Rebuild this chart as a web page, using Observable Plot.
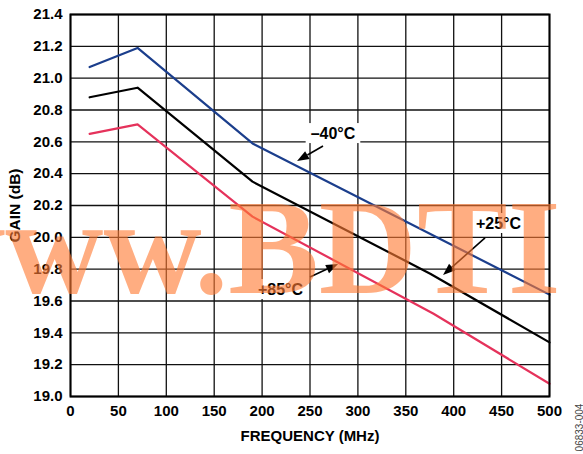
<!DOCTYPE html>
<html><head><meta charset="utf-8">
<script src="https://cdn.jsdelivr.net/npm/d3@7"></script>
<script src="https://cdn.jsdelivr.net/npm/@observablehq/plot@0.6"></script>
<style>body{margin:0;background:#fff;} #chart svg{display:block;}</style>
</head><body><div id="chart"></div>
<script>
// ---- data ----
const xTicks = [0, 50, 100, 150, 200, 250, 300, 350, 400, 450, 500];
const yTicks = [19.0, 19.2, 19.4, 19.6, 19.8, 20.0, 20.2, 20.4, 20.6, 20.8, 21.0, 21.2, 21.4];

const seriesNames = ["–40°C", "+25°C", "+85°C"];
const freqM40 = [20, 70, 190, 500];
const gainM40 = [21.07, 21.19, 20.59, 19.64];
const freqP25 = [20, 70, 190, 376, 500];
const gainP25 = [20.88, 20.94, 20.35, 19.77, 19.34];
const freqP85 = [20, 70, 190, 379, 500];
const gainP85 = [20.65, 20.71, 20.13, 19.52, 19.08];

// annotation anchors (data units)
const labelFreq = [274.5, 447.3, 219.7];
const labelGain = [20.652, 20.087, 19.672];
const arrowFromFreq = [264.1, 433.2, 250.5];
const arrowFromGain = [20.571, 19.993, 19.748];
const arrowToFreq = [237.0, 389.4, 279.8];
const arrowToGain = [20.476, 19.760, 19.829];

const xTitle = "FREQUENCY (MHz)";
const yTitle = "GAIN (dB)";
const figCode = "06833-004";
const watermark = "www.BDTI";

// ---- build ----
const seriesFreq = [freqM40, freqP25, freqP85];
const seriesGain = [gainM40, gainP25, gainP85];
const lineData = seriesNames.flatMap((name, s) =>
  seriesFreq[s].map((f, i) => ({series: name, freq: f, gain: seriesGain[s][i]})));
const colors = ["#1B3E8C", "#000000", "#E5325B"];

const SVGNS = "http://www.w3.org/2000/svg";
function el(tag, attrs) {
  const e = document.createElementNS(SVGNS, tag);
  for (const k in attrs) e.setAttribute(k, attrs[k]);
  return e;
}
const measureCtx = document.createElement("canvas").getContext("2d");

function annotations(index, scales) {
  const {x, y} = scales;
  const g = el("g", {});
  seriesNames.forEach((name, i) => {
    const cx = x(labelFreq[i]), cy = y(labelGain[i]);
    measureCtx.font = "bold 16px 'Liberation Sans', Arial, sans-serif";
    const w = measureCtx.measureText(name).width;
    g.appendChild(el("rect", {x: cx - w / 2 - 5, y: cy - 10, width: w + 10, height: 20, fill: "white"}));
    const t = el("text", {x: cx, y: cy, "text-anchor": "middle", dy: "0.36em",
      "font-size": 16, "font-weight": "bold", fill: "black"});
    t.textContent = name;
    g.appendChild(t);
    const x1 = x(arrowFromFreq[i]), y1 = y(arrowFromGain[i]);
    const x2 = x(arrowToFreq[i]), y2 = y(arrowToGain[i]);
    const a = Math.atan2(y2 - y1, x2 - x1);
    const L = 12, W = 4.5;
    const bx = x2 - L * Math.cos(a), by = y2 - L * Math.sin(a);
    g.appendChild(el("line", {x1, y1, x2: bx, y2: by, stroke: "black", "stroke-width": 1.6}));
    const pts = [[x2, y2], [bx + W * Math.sin(a), by - W * Math.cos(a)], [bx - W * Math.sin(a), by + W * Math.cos(a)]];
    g.appendChild(el("polygon", {points: pts.map(p => p.join(",")).join(" "), fill: "black"}));
  });
  return g;
}

function watermarkMark() {
  const t = el("text", {x: -93, y: 293, "text-anchor": "start",
    "font-family": "'Liberation Serif', 'Times New Roman', serif", "font-weight": "bold",
    "font-size": 136, fill: "#FF7A33", "fill-opacity": 0.62});
  t.textContent = watermark;
  return t;
}

const plot = Plot.plot({
  width: 583, height: 454,
  marginLeft: 70, marginRight: 34, marginTop: 14, marginBottom: 58,
  x: {domain: [0, 500]},
  y: {domain: [19, 21.4]},
  color: {domain: seriesNames, range: colors},
  style: {fontFamily: "'Liberation Sans', Arial, sans-serif", fontWeight: "bold", fontSize: "15px", color: "black", background: "white"},
  marks: [
    Plot.gridX(xTicks, {stroke: "#111", strokeOpacity: 1, strokeWidth: 1.3}),
    Plot.gridY(yTicks, {stroke: "#111", strokeOpacity: 1, strokeWidth: 1.3}),
    Plot.axisX(xTicks, {tickSize: 0, tickPadding: 9, tickFormat: d => String(d), label: null, fontSize: 15}),
    Plot.axisY(yTicks, {tickSize: 0, tickPadding: 8, tickFormat: d3.format(".1f"), label: null, fontSize: 15}),
    Plot.line(lineData, {x: "freq", y: "gain", z: "series", stroke: "series", strokeWidth: 2.2}),
    Plot.frame({stroke: "#000", strokeWidth: 2}),
    annotations,
    Plot.text([xTitle], {frameAnchor: "bottom", dy: 44, text: d => d, fontSize: 15}),
    Plot.text([yTitle], {frameAnchor: "left", dx: -55, rotate: -90, textAnchor: "middle", text: d => d, fontSize: 15.5}),
    Plot.text([figCode], {frameAnchor: "bottom-right", dx: 30, dy: 31, rotate: -90, textAnchor: "middle", lineAnchor: "middle", text: d => d,
      fontSize: 10, fontWeight: "normal", fill: "#444"}),
    watermarkMark
  ]
});
document.getElementById("chart").appendChild(plot);
</script>
</body></html>
